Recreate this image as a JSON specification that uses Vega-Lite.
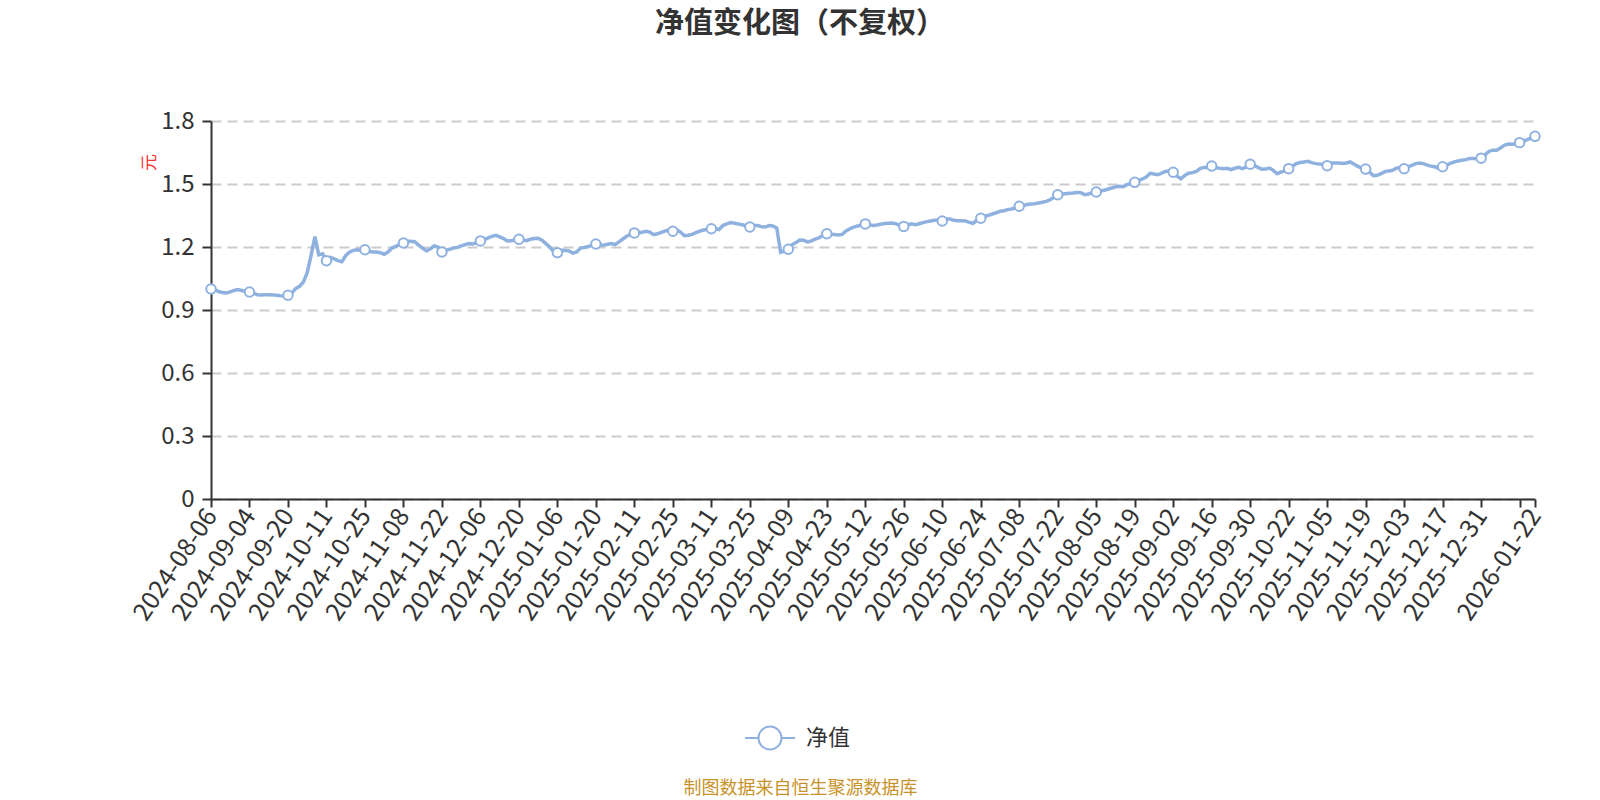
{
  "$schema": "https://vega.github.io/schema/vega-lite/v6.json",
  "width": 1324,
  "height": 378,
  "autosize": "none",
  "padding": {"left": 211, "top": 121, "right": 65, "bottom": 301},
  "background": "white",
  "title": {
    "text": "净值变化图（不复权）",
    "anchor": "middle",
    "frame": "group",
    "dx": -73,
    "offset": 70,
    "fontSize": 29,
    "fontWeight": "bold",
    "color": "#333333",
    "font": "Noto Sans CJK SC"
  },
  "data": {
    "values": [
      {"date": "2024-08-06", "nav": 1.000}, {"date": "2024-08-09", "nav": 0.997}, {"date": "2024-08-13", "nav": 0.988},
      {"date": "2024-08-16", "nav": 0.983}, {"date": "2024-08-20", "nav": 0.981}, {"date": "2024-08-23", "nav": 0.986},
      {"date": "2024-08-27", "nav": 0.993}, {"date": "2024-08-30", "nav": 0.997}, {"date": "2024-09-02", "nav": 0.993},
      {"date": "2024-09-03", "nav": 0.988}, {"date": "2024-09-04", "nav": 0.986}, {"date": "2024-09-05", "nav": 0.980},
      {"date": "2024-09-06", "nav": 0.973}, {"date": "2024-09-09", "nav": 0.972}, {"date": "2024-09-10", "nav": 0.973},
      {"date": "2024-09-11", "nav": 0.973}, {"date": "2024-09-12", "nav": 0.972}, {"date": "2024-09-13", "nav": 0.970},
      {"date": "2024-09-18", "nav": 0.968}, {"date": "2024-09-19", "nav": 0.967}, {"date": "2024-09-20", "nav": 0.970},
      {"date": "2024-09-23", "nav": 0.981}, {"date": "2024-09-24", "nav": 1.002}, {"date": "2024-09-25", "nav": 1.013},
      {"date": "2024-09-26", "nav": 1.033}, {"date": "2024-09-27", "nav": 1.078}, {"date": "2024-09-30", "nav": 1.160},
      {"date": "2024-10-08", "nav": 1.249}, {"date": "2024-10-09", "nav": 1.163}, {"date": "2024-10-10", "nav": 1.168},
      {"date": "2024-10-11", "nav": 1.135}, {"date": "2024-10-14", "nav": 1.151}, {"date": "2024-10-15", "nav": 1.143},
      {"date": "2024-10-16", "nav": 1.135}, {"date": "2024-10-17", "nav": 1.130}, {"date": "2024-10-18", "nav": 1.159},
      {"date": "2024-10-21", "nav": 1.176}, {"date": "2024-10-22", "nav": 1.184}, {"date": "2024-10-23", "nav": 1.187},
      {"date": "2024-10-24", "nav": 1.184}, {"date": "2024-10-25", "nav": 1.187}, {"date": "2024-10-28", "nav": 1.179},
      {"date": "2024-10-29", "nav": 1.176}, {"date": "2024-10-30", "nav": 1.176}, {"date": "2024-10-31", "nav": 1.173},
      {"date": "2024-11-01", "nav": 1.165}, {"date": "2024-11-04", "nav": 1.176}, {"date": "2024-11-05", "nav": 1.195},
      {"date": "2024-11-06", "nav": 1.203}, {"date": "2024-11-07", "nav": 1.211}, {"date": "2024-11-08", "nav": 1.219},
      {"date": "2024-11-11", "nav": 1.227}, {"date": "2024-11-12", "nav": 1.227}, {"date": "2024-11-13", "nav": 1.224},
      {"date": "2024-11-14", "nav": 1.208}, {"date": "2024-11-15", "nav": 1.195}, {"date": "2024-11-18", "nav": 1.181},
      {"date": "2024-11-19", "nav": 1.192}, {"date": "2024-11-20", "nav": 1.205}, {"date": "2024-11-21", "nav": 1.200},
      {"date": "2024-11-22", "nav": 1.176}, {"date": "2024-11-25", "nav": 1.184}, {"date": "2024-11-26", "nav": 1.189},
      {"date": "2024-11-27", "nav": 1.195}, {"date": "2024-11-28", "nav": 1.198}, {"date": "2024-11-29", "nav": 1.205},
      {"date": "2024-12-02", "nav": 1.211}, {"date": "2024-12-03", "nav": 1.216}, {"date": "2024-12-04", "nav": 1.214},
      {"date": "2024-12-05", "nav": 1.221}, {"date": "2024-12-06", "nav": 1.229}, {"date": "2024-12-09", "nav": 1.235},
      {"date": "2024-12-10", "nav": 1.243}, {"date": "2024-12-11", "nav": 1.251}, {"date": "2024-12-12", "nav": 1.256},
      {"date": "2024-12-13", "nav": 1.248}, {"date": "2024-12-16", "nav": 1.240}, {"date": "2024-12-17", "nav": 1.229},
      {"date": "2024-12-18", "nav": 1.230}, {"date": "2024-12-19", "nav": 1.233}, {"date": "2024-12-20", "nav": 1.237},
      {"date": "2024-12-23", "nav": 1.233}, {"date": "2024-12-24", "nav": 1.230}, {"date": "2024-12-25", "nav": 1.237},
      {"date": "2024-12-26", "nav": 1.240}, {"date": "2024-12-27", "nav": 1.241}, {"date": "2024-12-30", "nav": 1.232},
      {"date": "2024-12-31", "nav": 1.216}, {"date": "2025-01-02", "nav": 1.200}, {"date": "2025-01-03", "nav": 1.179},
      {"date": "2025-01-06", "nav": 1.173}, {"date": "2025-01-07", "nav": 1.183}, {"date": "2025-01-08", "nav": 1.184},
      {"date": "2025-01-09", "nav": 1.181}, {"date": "2025-01-10", "nav": 1.171}, {"date": "2025-01-13", "nav": 1.176},
      {"date": "2025-01-14", "nav": 1.195}, {"date": "2025-01-15", "nav": 1.198}, {"date": "2025-01-16", "nav": 1.202},
      {"date": "2025-01-17", "nav": 1.208}, {"date": "2025-01-20", "nav": 1.214}, {"date": "2025-01-21", "nav": 1.211},
      {"date": "2025-01-22", "nav": 1.208}, {"date": "2025-01-23", "nav": 1.213}, {"date": "2025-01-24", "nav": 1.216},
      {"date": "2025-01-27", "nav": 1.211}, {"date": "2025-02-05", "nav": 1.224}, {"date": "2025-02-06", "nav": 1.238},
      {"date": "2025-02-07", "nav": 1.251}, {"date": "2025-02-10", "nav": 1.260}, {"date": "2025-02-11", "nav": 1.267},
      {"date": "2025-02-12", "nav": 1.267}, {"date": "2025-02-13", "nav": 1.270}, {"date": "2025-02-14", "nav": 1.275},
      {"date": "2025-02-17", "nav": 1.271}, {"date": "2025-02-18", "nav": 1.259}, {"date": "2025-02-19", "nav": 1.263},
      {"date": "2025-02-20", "nav": 1.270}, {"date": "2025-02-21", "nav": 1.276}, {"date": "2025-02-24", "nav": 1.281},
      {"date": "2025-02-25", "nav": 1.275}, {"date": "2025-02-26", "nav": 1.281}, {"date": "2025-02-27", "nav": 1.271},
      {"date": "2025-02-28", "nav": 1.254}, {"date": "2025-03-03", "nav": 1.256}, {"date": "2025-03-04", "nav": 1.260},
      {"date": "2025-03-05", "nav": 1.268}, {"date": "2025-03-06", "nav": 1.276}, {"date": "2025-03-07", "nav": 1.281},
      {"date": "2025-03-10", "nav": 1.284}, {"date": "2025-03-11", "nav": 1.287}, {"date": "2025-03-12", "nav": 1.287},
      {"date": "2025-03-13", "nav": 1.283}, {"date": "2025-03-14", "nav": 1.302}, {"date": "2025-03-17", "nav": 1.310},
      {"date": "2025-03-18", "nav": 1.316}, {"date": "2025-03-19", "nav": 1.313}, {"date": "2025-03-20", "nav": 1.310},
      {"date": "2025-03-21", "nav": 1.306}, {"date": "2025-03-24", "nav": 1.302}, {"date": "2025-03-25", "nav": 1.295},
      {"date": "2025-03-26", "nav": 1.302}, {"date": "2025-03-27", "nav": 1.302}, {"date": "2025-03-28", "nav": 1.297},
      {"date": "2025-03-31", "nav": 1.295}, {"date": "2025-04-01", "nav": 1.302}, {"date": "2025-04-02", "nav": 1.300},
      {"date": "2025-04-03", "nav": 1.290}, {"date": "2025-04-07", "nav": 1.175}, {"date": "2025-04-08", "nav": 1.181},
      {"date": "2025-04-09", "nav": 1.189}, {"date": "2025-04-10", "nav": 1.211}, {"date": "2025-04-11", "nav": 1.222},
      {"date": "2025-04-14", "nav": 1.233}, {"date": "2025-04-15", "nav": 1.232}, {"date": "2025-04-16", "nav": 1.224},
      {"date": "2025-04-17", "nav": 1.229}, {"date": "2025-04-18", "nav": 1.237}, {"date": "2025-04-21", "nav": 1.244},
      {"date": "2025-04-22", "nav": 1.256}, {"date": "2025-04-23", "nav": 1.263}, {"date": "2025-04-24", "nav": 1.262},
      {"date": "2025-04-25", "nav": 1.259}, {"date": "2025-04-28", "nav": 1.257}, {"date": "2025-04-29", "nav": 1.260},
      {"date": "2025-04-30", "nav": 1.276}, {"date": "2025-05-06", "nav": 1.287}, {"date": "2025-05-07", "nav": 1.295},
      {"date": "2025-05-08", "nav": 1.300}, {"date": "2025-05-09", "nav": 1.305}, {"date": "2025-05-12", "nav": 1.310},
      {"date": "2025-05-13", "nav": 1.306}, {"date": "2025-05-14", "nav": 1.303}, {"date": "2025-05-15", "nav": 1.305},
      {"date": "2025-05-16", "nav": 1.308}, {"date": "2025-05-19", "nav": 1.312}, {"date": "2025-05-20", "nav": 1.313},
      {"date": "2025-05-21", "nav": 1.314}, {"date": "2025-05-22", "nav": 1.310}, {"date": "2025-05-23", "nav": 1.303},
      {"date": "2025-05-26", "nav": 1.298}, {"date": "2025-05-27", "nav": 1.305}, {"date": "2025-05-28", "nav": 1.310},
      {"date": "2025-05-29", "nav": 1.306}, {"date": "2025-05-30", "nav": 1.311}, {"date": "2025-06-03", "nav": 1.316},
      {"date": "2025-06-04", "nav": 1.321}, {"date": "2025-06-05", "nav": 1.324}, {"date": "2025-06-06", "nav": 1.327},
      {"date": "2025-06-09", "nav": 1.330}, {"date": "2025-06-10", "nav": 1.324}, {"date": "2025-06-11", "nav": 1.333},
      {"date": "2025-06-12", "nav": 1.333}, {"date": "2025-06-13", "nav": 1.327}, {"date": "2025-06-16", "nav": 1.325},
      {"date": "2025-06-17", "nav": 1.325}, {"date": "2025-06-18", "nav": 1.324}, {"date": "2025-06-19", "nav": 1.317},
      {"date": "2025-06-20", "nav": 1.313}, {"date": "2025-06-23", "nav": 1.327}, {"date": "2025-06-24", "nav": 1.337},
      {"date": "2025-06-25", "nav": 1.346}, {"date": "2025-06-26", "nav": 1.351}, {"date": "2025-06-27", "nav": 1.357},
      {"date": "2025-06-30", "nav": 1.363}, {"date": "2025-07-01", "nav": 1.370}, {"date": "2025-07-02", "nav": 1.373},
      {"date": "2025-07-03", "nav": 1.378}, {"date": "2025-07-04", "nav": 1.381}, {"date": "2025-07-07", "nav": 1.386},
      {"date": "2025-07-08", "nav": 1.394}, {"date": "2025-07-09", "nav": 1.397}, {"date": "2025-07-10", "nav": 1.402},
      {"date": "2025-07-11", "nav": 1.405}, {"date": "2025-07-14", "nav": 1.406}, {"date": "2025-07-15", "nav": 1.410},
      {"date": "2025-07-16", "nav": 1.413}, {"date": "2025-07-17", "nav": 1.417}, {"date": "2025-07-18", "nav": 1.425},
      {"date": "2025-07-21", "nav": 1.437}, {"date": "2025-07-22", "nav": 1.449}, {"date": "2025-07-23", "nav": 1.452},
      {"date": "2025-07-24", "nav": 1.454}, {"date": "2025-07-25", "nav": 1.456}, {"date": "2025-07-28", "nav": 1.457},
      {"date": "2025-07-29", "nav": 1.460}, {"date": "2025-07-30", "nav": 1.459}, {"date": "2025-07-31", "nav": 1.449},
      {"date": "2025-08-01", "nav": 1.452}, {"date": "2025-08-04", "nav": 1.459}, {"date": "2025-08-05", "nav": 1.462},
      {"date": "2025-08-06", "nav": 1.467}, {"date": "2025-08-07", "nav": 1.470}, {"date": "2025-08-08", "nav": 1.475},
      {"date": "2025-08-11", "nav": 1.481}, {"date": "2025-08-12", "nav": 1.486}, {"date": "2025-08-13", "nav": 1.489},
      {"date": "2025-08-14", "nav": 1.487}, {"date": "2025-08-15", "nav": 1.497}, {"date": "2025-08-18", "nav": 1.503},
      {"date": "2025-08-19", "nav": 1.508}, {"date": "2025-08-20", "nav": 1.516}, {"date": "2025-08-21", "nav": 1.524},
      {"date": "2025-08-22", "nav": 1.533}, {"date": "2025-08-25", "nav": 1.551}, {"date": "2025-08-26", "nav": 1.548},
      {"date": "2025-08-27", "nav": 1.544}, {"date": "2025-08-28", "nav": 1.552}, {"date": "2025-08-29", "nav": 1.560},
      {"date": "2025-09-01", "nav": 1.563}, {"date": "2025-09-02", "nav": 1.556}, {"date": "2025-09-03", "nav": 1.537},
      {"date": "2025-09-04", "nav": 1.525}, {"date": "2025-09-05", "nav": 1.541}, {"date": "2025-09-08", "nav": 1.551},
      {"date": "2025-09-09", "nav": 1.554}, {"date": "2025-09-10", "nav": 1.560}, {"date": "2025-09-11", "nav": 1.573},
      {"date": "2025-09-12", "nav": 1.579}, {"date": "2025-09-15", "nav": 1.579}, {"date": "2025-09-16", "nav": 1.586},
      {"date": "2025-09-17", "nav": 1.578}, {"date": "2025-09-18", "nav": 1.575}, {"date": "2025-09-19", "nav": 1.573},
      {"date": "2025-09-22", "nav": 1.575}, {"date": "2025-09-23", "nav": 1.568}, {"date": "2025-09-24", "nav": 1.575},
      {"date": "2025-09-25", "nav": 1.579}, {"date": "2025-09-26", "nav": 1.573}, {"date": "2025-09-29", "nav": 1.581},
      {"date": "2025-09-30", "nav": 1.594}, {"date": "2025-10-09", "nav": 1.589}, {"date": "2025-10-10", "nav": 1.579},
      {"date": "2025-10-13", "nav": 1.570}, {"date": "2025-10-14", "nav": 1.571}, {"date": "2025-10-15", "nav": 1.576},
      {"date": "2025-10-16", "nav": 1.565}, {"date": "2025-10-17", "nav": 1.549}, {"date": "2025-10-20", "nav": 1.556},
      {"date": "2025-10-21", "nav": 1.563}, {"date": "2025-10-22", "nav": 1.573}, {"date": "2025-10-23", "nav": 1.586},
      {"date": "2025-10-24", "nav": 1.597}, {"date": "2025-10-27", "nav": 1.602}, {"date": "2025-10-28", "nav": 1.605},
      {"date": "2025-10-29", "nav": 1.608}, {"date": "2025-10-30", "nav": 1.602}, {"date": "2025-10-31", "nav": 1.597},
      {"date": "2025-11-03", "nav": 1.595}, {"date": "2025-11-04", "nav": 1.594}, {"date": "2025-11-05", "nav": 1.587},
      {"date": "2025-11-06", "nav": 1.600}, {"date": "2025-11-07", "nav": 1.600}, {"date": "2025-11-10", "nav": 1.600},
      {"date": "2025-11-11", "nav": 1.598}, {"date": "2025-11-12", "nav": 1.600}, {"date": "2025-11-13", "nav": 1.605},
      {"date": "2025-11-14", "nav": 1.594}, {"date": "2025-11-17", "nav": 1.584}, {"date": "2025-11-18", "nav": 1.576},
      {"date": "2025-11-19", "nav": 1.571}, {"date": "2025-11-20", "nav": 1.557}, {"date": "2025-11-21", "nav": 1.540},
      {"date": "2025-11-24", "nav": 1.541}, {"date": "2025-11-25", "nav": 1.549}, {"date": "2025-11-26", "nav": 1.559},
      {"date": "2025-11-27", "nav": 1.562}, {"date": "2025-11-28", "nav": 1.565}, {"date": "2025-12-01", "nav": 1.575},
      {"date": "2025-12-02", "nav": 1.578}, {"date": "2025-12-03", "nav": 1.573}, {"date": "2025-12-04", "nav": 1.581},
      {"date": "2025-12-05", "nav": 1.589}, {"date": "2025-12-08", "nav": 1.597}, {"date": "2025-12-09", "nav": 1.600},
      {"date": "2025-12-10", "nav": 1.597}, {"date": "2025-12-11", "nav": 1.590}, {"date": "2025-12-12", "nav": 1.585},
      {"date": "2025-12-15", "nav": 1.582}, {"date": "2025-12-16", "nav": 1.574}, {"date": "2025-12-17", "nav": 1.582},
      {"date": "2025-12-18", "nav": 1.590}, {"date": "2025-12-19", "nav": 1.598}, {"date": "2025-12-22", "nav": 1.605},
      {"date": "2025-12-23", "nav": 1.610}, {"date": "2025-12-24", "nav": 1.613}, {"date": "2025-12-25", "nav": 1.616},
      {"date": "2025-12-26", "nav": 1.621}, {"date": "2025-12-29", "nav": 1.621}, {"date": "2025-12-30", "nav": 1.619},
      {"date": "2025-12-31", "nav": 1.623}, {"date": "2026-01-05", "nav": 1.639}, {"date": "2026-01-06", "nav": 1.655},
      {"date": "2026-01-07", "nav": 1.661}, {"date": "2026-01-08", "nav": 1.661}, {"date": "2026-01-09", "nav": 1.671},
      {"date": "2026-01-12", "nav": 1.684}, {"date": "2026-01-13", "nav": 1.690}, {"date": "2026-01-14", "nav": 1.689},
      {"date": "2026-01-15", "nav": 1.690}, {"date": "2026-01-16", "nav": 1.697}, {"date": "2026-01-19", "nav": 1.703},
      {"date": "2026-01-20", "nav": 1.711}, {"date": "2026-01-21", "nav": 1.719}, {"date": "2026-01-22", "nav": 1.727}
    ]
  },
  "encoding": {
    "x": {
      "field": "date",
      "type": "ordinal",
      "scale": {"type": "point", "padding": 0},
      "axis": {
        "values": [
          "2024-08-06", "2024-09-04", "2024-09-20", "2024-10-11", "2024-10-25", "2024-11-08", "2024-11-22",
          "2024-12-06", "2024-12-20", "2025-01-06", "2025-01-20", "2025-02-11", "2025-02-25", "2025-03-11",
          "2025-03-25", "2025-04-09", "2025-04-23", "2025-05-12", "2025-05-26", "2025-06-10", "2025-06-24",
          "2025-07-08", "2025-07-22", "2025-08-05", "2025-08-19", "2025-09-02", "2025-09-16", "2025-09-30",
          "2025-10-22", "2025-11-05", "2025-11-19", "2025-12-03", "2025-12-17", "2025-12-31", "2026-01-16",
          "2026-01-22"
        ],
        "labelExpr": "datum.value == '2026-01-16' ? '' : datum.value",
        "labelAngle": -56,
        "labelFontSize": 25,
        "labelColor": "#333333",
        "labelOverlap": false,
        "labelPadding": 4,
        "tickSize": 8,
        "tickWidth": 2,
        "tickColor": "#333333",
        "domainColor": "#333333",
        "domainWidth": 2,
        "grid": false,
        "title": "制图数据来自恒生聚源数据库",
        "titleColor": "#c8922a",
        "titleFontSize": 18,
        "titleFontWeight": "normal",
        "titleX": 589,
        "titleY": 289,
        "titleAlign": "center",
        "titleBaseline": "middle"
      }
    },
    "y": {
      "field": "nav",
      "type": "quantitative",
      "scale": {"domain": [0, 1.8], "nice": false},
      "axis": {
        "values": [0, 0.3, 0.6, 0.9, 1.2, 1.5, 1.8],
        "format": "~g",
        "labelFontSize": 24,
        "labelColor": "#333333",
        "labelPadding": 8,
        "tickSize": 9,
        "tickWidth": 2,
        "tickColor": "#333333",
        "domainColor": "#333333",
        "domainWidth": 2,
        "grid": true,
        "gridColor": "#cccccc",
        "gridDash": [10, 6],
        "gridWidth": 2,
        "title": "元",
        "titleColor": "#ff3333",
        "titleFontSize": 17,
        "titleFontWeight": "normal",
        "titleAngle": -90,
        "titleX": -62,
        "titleY": 41,
        "titleAlign": "center",
        "titleBaseline": "middle"
      }
    }
  },
  "layer": [
    {
      "mark": {"type": "line", "strokeWidth": 3.5},
      "encoding": {
        "color": {
          "datum": "净值",
          "type": "nominal",
          "scale": {"range": ["#8fb1e0"]},
          "legend": {
            "orient": "none",
            "legendX": 533,
            "legendY": 591,
            "title": null,
            "padding": 0,
            "symbolType": "M-1,0L-0.46,0M0.46,0L1,0M-0.46,0A0.46,0.46,0,1,1,0.46,0A0.46,0.46,0,1,1,-0.46,0Z",
            "symbolSize": 2500,
            "symbolStrokeWidth": 2,
            "symbolFillColor": "white",
            "symbolStrokeColor": "#8fb1e0",
            "labelFontSize": 22,
            "labelColor": "#333333",
            "labelOffset": 10
          }
        }
      }
    },
    {
      "transform": [
        {
          "filter": {
            "field": "date",
            "oneOf": [
              "2024-08-06", "2024-09-04", "2024-09-20", "2024-10-11", "2024-10-25", "2024-11-08", "2024-11-22",
              "2024-12-06", "2024-12-20", "2025-01-06", "2025-01-20", "2025-02-11", "2025-02-25", "2025-03-11",
              "2025-03-25", "2025-04-09", "2025-04-23", "2025-05-12", "2025-05-26", "2025-06-10", "2025-06-24",
              "2025-07-08", "2025-07-22", "2025-08-05", "2025-08-19", "2025-09-02", "2025-09-16", "2025-09-30",
              "2025-10-22", "2025-11-05", "2025-11-19", "2025-12-03", "2025-12-17", "2025-12-31", "2026-01-16",
              "2026-01-22"
            ]
          }
        }
      ],
      "mark": {
        "type": "point",
        "shape": "circle",
        "filled": true,
        "fill": "white",
        "stroke": "#8fb1e0",
        "strokeWidth": 2,
        "size": 90,
        "opacity": 1
      }
    }
  ],
  "config": {
    "font": "Noto Sans CJK SC",
    "view": {"stroke": null}
  }
}
